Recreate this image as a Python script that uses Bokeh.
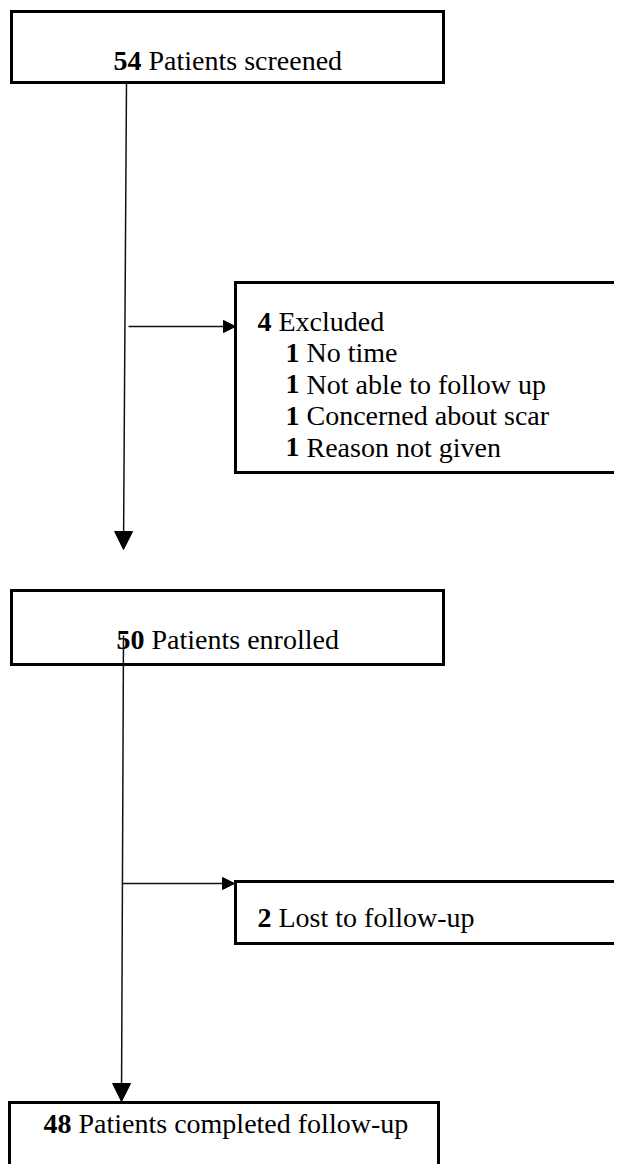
from bokeh.plotting import figure
from bokeh.models import Range1d, Arrow, NormalHead
from bokeh.core.properties import value
from bokeh.embed import file_html
from bokeh.resources import INLINE

# ---- data ----
stage_counts = [54, 50, 48]
stage_labels = ["Patients screened", "Patients enrolled", "Patients completed follow-up"]
excluded_count = 4
excluded_label = "Excluded"
reason_counts = [1, 1, 1, 1]
reason_labels = ["No time", "Not able to follow up", "Concerned about scar", "Reason not given"]
lost_count = 2
lost_label = "Lost to follow-up"

# ---- layout (pixel coordinates of the picture) ----
FONT = "Liberation Serif"
FS = 28  # px
W, H = 614, 1164
def num_w(n):
    return 0.5 * FS * len(str(n)) + 0.25 * FS

p = figure(width=W, height=H, x_range=Range1d(0, W), y_range=Range1d(H, 0),
           output_backend="svg", toolbar_location=None, min_border=0,
           x_axis_location=None, y_axis_location=None)
p.grid.visible = False
p.outline_line_color = None
p.background_fill_color = "white"

# boxes
stage_boxes = [(11, 443, 11, 82), (11, 443, 590, 664), (9, 438, 1102, 1190)]
side_boxes = [(235, 650, 282, 472), (235, 650, 881, 943)]
boxes = stage_boxes + side_boxes
p.quad(left=[b[0] for b in boxes], right=[b[1] for b in boxes],
       top=[b[2] for b in boxes], bottom=[b[3] for b in boxes],
       fill_color="white", line_color="black", line_width=3, line_join="miter")

# arrows
arrows = [((126, 82), (123, 549), 18), ((128, 326), (235, 326), 12),
          ((123, 635), (121, 1101), 18), ((122, 883), (234, 883), 12)]
for (x0, y0), (x1, y1), hs in arrows:
    p.add_layout(Arrow(x_start=x0, y_start=y0, x_end=x1, y_end=y1,
                       line_color="#111111", line_width=1.5,
                       end=NormalHead(size=hs, fill_color="black", line_color="black", line_width=1)))

def label(x, y, n, txt):
    p.text(x=[x], y=[y], text=[str(n)], text_font=value(FONT), text_font_style="bold",
           text_font_size=f"{FS}px", text_color="black", text_baseline="alphabetic", text_align="left")
    p.text(x=[x + num_w(n)], y=[y], text=[txt], text_font=value(FONT),
           text_font_size=f"{FS}px", text_color="black", text_baseline="alphabetic", text_align="left")

# stage labels
stage_text_pos = [(113, 60), (116, 639), (43, 1123)]
for (x, y), n, t in zip(stage_text_pos, stage_counts, stage_labels):
    label(x, y, n, t)

# excluded
label(257, 321, excluded_count, excluded_label)
for i, (n, t) in enumerate(zip(reason_counts, reason_labels)):
    label(285, 352 + 31.5 * i, n, t)

# lost
label(257, 917, lost_count, lost_label)

open("out.html", "w").write(file_html(p, INLINE))
